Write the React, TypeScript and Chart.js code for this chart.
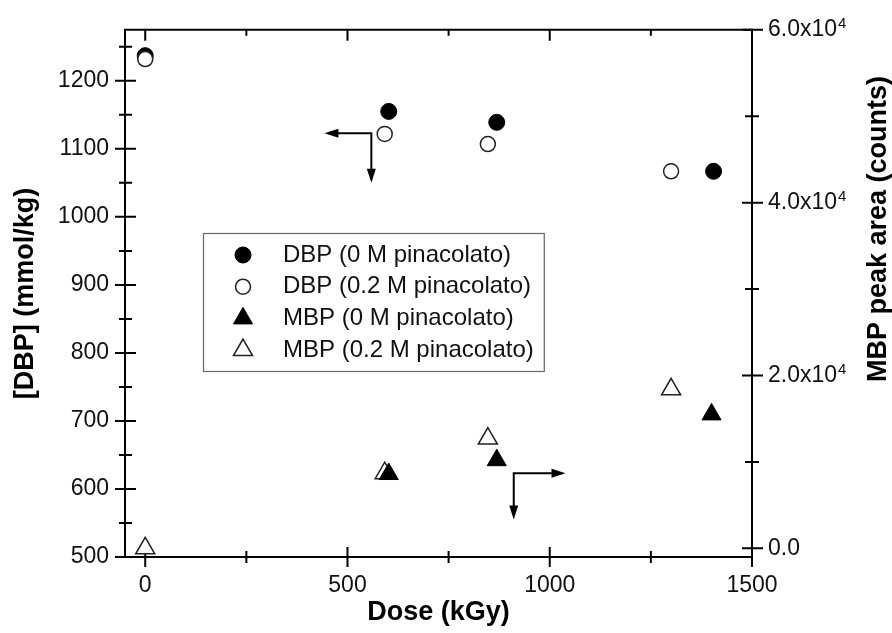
import { useEffect, useRef } from 'react';
import { Chart, registerables } from 'chart.js';
import { drawPoint } from 'chart.js/helpers';

Chart.register(...registerables);

const FONT = "'Liberation Sans', Arial, Helvetica, sans-serif";

// ---- data ----
const doseDbp0M = [0, 602, 869, 1405];
const dbp0M = [1237, 1155, 1139, 1067];
const doseDbp02M = [0, 592, 847, 1300];
const dbp02M = [1232, 1122, 1107, 1067];
const doseMbp0M = [602, 869, 1400];
const mbp0M = [8600, 10200, 15500];
const doseMbp02M = [0, 592, 847, 1300];
const mbp02M = [0, 8700, 12700, 18400];

const seriesLabels = [
  'DBP (0 M pinacolato)',
  'DBP (0.2 M pinacolato)',
  'MBP (0 M pinacolato)',
  'MBP (0.2 M pinacolato)',
];

// ---- ticks ----
const xTickValues = [0, 500, 1000, 1500];
const xMinorValues = [250, 750, 1250];
const leftTickValues = [500, 600, 700, 800, 900, 1000, 1100, 1200];
const leftMinorValues = [550, 650, 750, 850, 950, 1050, 1150, 1250];
const rightTickValues = [0, 20000, 40000, 60000];
const rightTickBase = ['0.0', '2.0x10', '4.0x10', '6.0x10'];
const rightTickExp = ['', '4', '4', '4'];
const rightMinorValues = [10000, 30000, 50000];

// ---- arrows, in data units of (dose, [DBP]) ----
const arrowDbp = { dose: 559, value: 1123, toDose: 443, toValue: 1050 };
const arrowMbp = { dose: 911, value: 623, toDose: 1039, toValue: 555 };

const framePlugin = {
  id: 'frameTicks',
  beforeDatasetsDraw(chart: any) {
    const { ctx, chartArea: a, scales } = chart;
    const sx = scales.x, sy = scales.y, sy2 = scales.y2;
    ctx.save();
    ctx.strokeStyle = '#000';
    ctx.lineWidth = 2;
    ctx.beginPath();
    ctx.rect(a.left, a.top, a.right - a.left, a.bottom - a.top);
    ctx.stroke();
    const seg = (x1: number, y1: number, x2: number, y2: number) => {
      ctx.moveTo(x1, y1);
      ctx.lineTo(x2, y2);
    };
    ctx.beginPath();
    xTickValues.forEach((v) => {
      const p = sx.getPixelForValue(v);
      seg(p, a.bottom - 10, p, a.bottom + 10);
      seg(p, a.top, p, a.top + 11);
    });
    xMinorValues.forEach((v) => {
      const p = sx.getPixelForValue(v);
      seg(p, a.bottom - 6, p, a.bottom + 6);
      seg(p, a.top, p, a.top + 6);
    });
    leftTickValues.forEach((v) => {
      const p = sy.getPixelForValue(v);
      seg(a.left - 10, p, a.left + 11, p);
    });
    leftMinorValues.forEach((v) => {
      const p = sy.getPixelForValue(v);
      seg(a.left - 6, p, a.left + 7, p);
    });
    rightTickValues.forEach((v) => {
      const p = sy2.getPixelForValue(v);
      seg(a.right - 10, p, a.right + 11, p);
    });
    rightMinorValues.forEach((v) => {
      const p = sy2.getPixelForValue(v);
      seg(a.right - 7, p, a.right + 7, p);
    });
    ctx.stroke();
    ctx.restore();
  },
  afterDatasetsDraw(chart: any) {
    const { ctx, scales } = chart;
    const sx = scales.x, sy = scales.y;
    const head = (tx: number, ty: number, dx: number, dy: number) => {
      const L = 14, W = 4.5;
      const bx = tx - dx * L, by = ty - dy * L;
      ctx.beginPath();
      ctx.moveTo(tx, ty);
      ctx.lineTo(bx - dy * W, by + dx * W);
      ctx.lineTo(bx + dy * W, by - dx * W);
      ctx.closePath();
      ctx.fill();
    };
    const drawArrow = (ar: typeof arrowDbp) => {
      const cx = sx.getPixelForValue(ar.dose);
      const cy = sy.getPixelForValue(ar.value);
      const hx = sx.getPixelForValue(ar.toDose);
      const vy = sy.getPixelForValue(ar.toValue);
      const dirX = Math.sign(hx - cx);
      ctx.beginPath();
      ctx.moveTo(hx - dirX * 10, cy);
      ctx.lineTo(cx, cy);
      ctx.lineTo(cx, vy - 10);
      ctx.stroke();
      head(hx, cy, dirX, 0);
      head(cx, vy, 0, 1);
    };
    ctx.save();
    ctx.strokeStyle = '#000';
    ctx.fillStyle = '#000';
    ctx.lineWidth = 2;
    ctx.lineJoin = 'miter';
    drawArrow(arrowDbp);
    drawArrow(arrowMbp);
    ctx.restore();
  },
  afterDraw(chart: any) {
    const { ctx, chartArea: a, scales } = chart;
    const sy2 = scales.y2;

    // right-axis tick labels with raised exponent
    ctx.save();
    ctx.fillStyle = '#111';
    ctx.textAlign = 'left';
    rightTickValues.forEach((v, i) => {
      const py = sy2.getPixelForValue(v);
      const x0 = a.right + 16;
      ctx.font = `23px ${FONT}`;
      ctx.textBaseline = 'middle';
      ctx.fillText(rightTickBase[i], x0, py);
      if (rightTickExp[i]) {
        const w = ctx.measureText(rightTickBase[i]).width;
        ctx.font = `15px ${FONT}`;
        ctx.textBaseline = 'alphabetic';
        ctx.fillText(rightTickExp[i], x0 + w + 1, py - 2);
      }
    });
    ctx.restore();

    // right axis title (reads bottom to top)
    ctx.save();
    ctx.translate(879, 229);
    ctx.rotate(-Math.PI / 2);
    ctx.font = `bold 27px ${FONT}`;
    ctx.fillStyle = '#000';
    ctx.textAlign = 'center';
    ctx.textBaseline = 'middle';
    ctx.fillText('MBP peak area (counts)', 0, 0);
    ctx.restore();

    // legend
    ctx.save();
    ctx.font = `24px ${FONT}`;
    const left = 203, top = 233, bottom = 371, markerX = 243, textX = 283;
    const rowH = 31.7, firstRow = 255;
    const maxW = Math.max(...seriesLabels.map((t) => ctx.measureText(t).width));
    const right = textX + maxW + 10;
    ctx.fillStyle = '#fff';
    ctx.fillRect(left, top, right - left, bottom - top);
    ctx.strokeStyle = '#666';
    ctx.lineWidth = 1.2;
    ctx.strokeRect(left + 0.5, top + 0.5, right - left, bottom - top);
    chart.data.datasets.forEach((ds: any, i: number) => {
      const yy = firstRow + i * rowH;
      ctx.fillStyle = ds.pointBackgroundColor;
      ctx.strokeStyle = ds.pointBorderColor;
      ctx.lineWidth = ds.pointBorderWidth;
      drawPoint(ctx, { pointStyle: ds.pointStyle, radius: ds.pointRadius, rotation: 0, borderWidth: ds.pointBorderWidth }, markerX, yy);
      ctx.fillStyle = '#111';
      ctx.textAlign = 'left';
      ctx.textBaseline = 'middle';
      ctx.fillText(ds.label, textX, yy);
    });
    ctx.restore();
  },
};

export default function App() {
  const ref = useRef<HTMLCanvasElement>(null);
  useEffect(() => {
    if (!ref.current) return;
    Chart.defaults.font.family = FONT;
    const chart = new Chart(ref.current, {
      type: 'scatter',
      data: {
        datasets: [
          {
            label: seriesLabels[0],
            data: doseDbp0M.map((d, i) => ({ x: d, y: dbp0M[i] })),
            yAxisID: 'y',
            pointStyle: 'circle',
            pointRadius: 8,
            pointBackgroundColor: '#000',
            pointBorderColor: '#000',
            pointBorderWidth: 1,
            order: 1,
          },
          {
            label: seriesLabels[1],
            data: doseDbp02M.map((d, i) => ({ x: d, y: dbp02M[i] })),
            yAxisID: 'y',
            pointStyle: 'circle',
            pointRadius: 7.5,
            pointBackgroundColor: '#fff',
            pointBorderColor: '#222',
            pointBorderWidth: 1.5,
            order: 0,
          },
          {
            label: seriesLabels[2],
            data: doseMbp0M.map((d, i) => ({ x: d, y: mbp0M[i] })),
            yAxisID: 'y2',
            pointStyle: 'triangle',
            pointRadius: 11,
            pointBackgroundColor: '#000',
            pointBorderColor: '#000',
            pointBorderWidth: 1,
            order: 0,
          },
          {
            label: seriesLabels[3],
            data: doseMbp02M.map((d, i) => ({ x: d, y: mbp02M[i] })),
            yAxisID: 'y2',
            pointStyle: 'triangle',
            pointRadius: 11,
            pointBackgroundColor: '#fff',
            pointBorderColor: '#222',
            pointBorderWidth: 1.5,
            order: 1,
          },
        ] as any,
      },
      options: {
        responsive: false,
        animation: false,
        devicePixelRatio: 1,
        layout: { padding: { top: 28, left: 0, right: 0, bottom: 0 } },
        plugins: { legend: { display: false }, tooltip: { enabled: false } },
        scales: {
          x: {
            type: 'linear',
            position: 'bottom',
            min: -50,
            max: 1500,
            afterBuildTicks: (s: any) => {
              s.ticks = xTickValues.map((v) => ({ value: v }));
            },
            afterFit: (s: any) => {
              s.height = 76;
            },
            grid: { display: false, drawTicks: false },
            border: { display: false },
            ticks: {
              padding: 15,
              color: '#111',
              font: { family: FONT, size: 23 },
              maxRotation: 0,
              autoSkip: false,
              callback: (v: any) => String(v),
            },
            title: {
              display: true,
              text: 'Dose (kGy)',
              color: '#000',
              font: { family: FONT, size: 27, weight: 'bold' },
              padding: { top: 0, bottom: 4 },
            },
          },
          y: {
            type: 'linear',
            position: 'left',
            min: 500,
            max: 1275,
            afterBuildTicks: (s: any) => {
              s.ticks = leftTickValues.map((v) => ({ value: v }));
            },
            afterFit: (s: any) => {
              s.width = 125;
            },
            grid: { display: false, drawTicks: false },
            border: { display: false },
            ticks: {
              padding: 16,
              color: '#111',
              font: { family: FONT, size: 23 },
              autoSkip: false,
              callback: (v: any) => String(v),
            },
            title: {
              display: true,
              text: '[DBP] (mmol/kg)',
              color: '#000',
              font: { family: FONT, size: 27, weight: 'bold' },
              padding: { top: 9, bottom: 0 },
            },
          },
          y2: {
            type: 'linear',
            position: 'right',
            min: -1000,
            max: 60000,
            afterBuildTicks: (s: any) => {
              s.ticks = rightTickValues.map((v) => ({ value: v }));
            },
            afterFit: (s: any) => {
              s.width = 140;
            },
            grid: { display: false, drawTicks: false },
            border: { display: false },
            ticks: { display: false },
            title: { display: false },
          },
        },
      } as any,
      plugins: [framePlugin],
    });
    return () => chart.destroy();
  }, []);
  return (
    <div style={{ position: 'fixed', left: 0, top: 0, width: 892, height: 633, background: '#fff' }}>
      <canvas ref={ref} width={892} height={633} style={{ display: 'block', width: 892, height: 633 }} />
    </div>
  );
}
